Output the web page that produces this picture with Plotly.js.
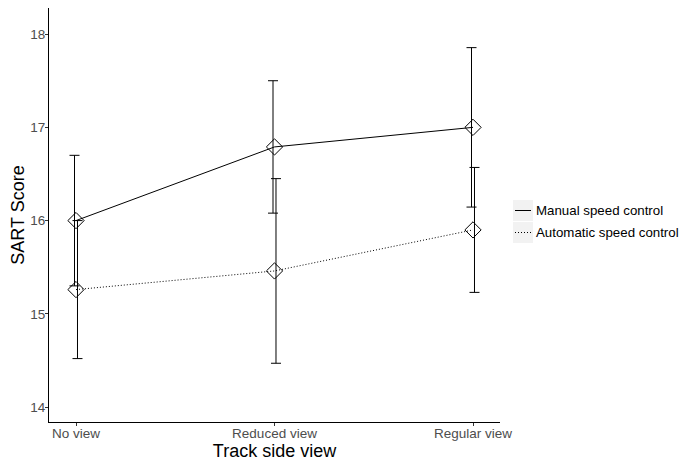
<!DOCTYPE html>
<html>
<head>
<meta charset="utf-8">
<script src="https://cdn.plot.ly/plotly-3.0.1.min.js"></script>
<style>html,body{margin:0;padding:0;background:#fff;}#chart{width:682px;height:461px;}</style>
</head>
<body>
<div id="chart"></div>
<script>
const categories = ['No view', 'Reduced view', 'Regular view'];
const seriesNames = ['Manual speed control', 'Automatic speed control'];
const manualMean = [16.00, 16.79, 17.00];
const manualErr = [0.70, 0.71, 0.855];
const autoMean = [15.26, 15.46, 15.90];
const autoErr = [0.74, 0.99, 0.67];
const yTicks = [14, 15, 16, 17, 18];

const FONT = 'Liberation Sans, Arial, sans-serif';
const idx = categories.map((c, i) => i);
const dodge = 0.0075;
const DOT = '1px,2px';

function errTrace(mean, err, off) {
  return {
    x: idx.map(i => i + off), y: mean, type: 'scatter', mode: 'markers',
    marker: {size: 1, opacity: 0, color: '#000'},
    error_y: {type: 'data', array: err, symmetric: true, visible: true, color: '#000', thickness: 1, width: 5},
    showlegend: false, hoverinfo: 'skip'
  };
}
function lineTrace(mean, name, dash) {
  return {
    x: idx, y: mean, type: 'scatter', mode: 'lines+markers', name: name,
    line: {color: '#000', width: 1, dash: dash},
    marker: {symbol: 'diamond-open', size: 12.5, color: '#000', line: {width: 1, color: '#000'}},
    showlegend: false
  };
}

const data = [
  errTrace(manualMean, manualErr, -dodge),
  errTrace(autoMean, autoErr, dodge),
  lineTrace(manualMean, seriesNames[0], 'solid'),
  lineTrace(autoMean, seriesNames[1], DOT)
];

// plot area in pixels: x 49..500, y 8..422
const L = 49, R = 500, T = 8, B = 422;
const px = v => (v - L) / (R - L);
const py = v => (B - v) / (B - T);

const keyBoxes = [[200, 221], [222, 243]];
const shapes = [];
const annotations = [];
seriesNames.forEach((n, k) => {
  const [y0, y1] = keyBoxes[k];
  shapes.push({type: 'rect', xref: 'paper', yref: 'paper', x0: px(513), x1: px(533), y0: py(y1), y1: py(y0),
    fillcolor: '#f2f2f2', line: {width: 0}, layer: 'below'});
  const ym = (y0 + y1) / 2;
  shapes.push({type: 'line', xref: 'paper', yref: 'paper', x0: px(515), x1: px(531), y0: py(ym), y1: py(ym),
    line: {color: '#000', width: 1, dash: k === 0 ? 'solid' : DOT}});
  annotations.push({text: n, xref: 'paper', yref: 'paper', x: px(534), y: py(ym), xanchor: 'left', yanchor: 'middle',
    showarrow: false, font: {family: FONT, size: 13.3, color: '#000'}});
});

const layout = {
  width: 682, height: 461,
  margin: {l: L, r: 682 - R, t: T, b: 461 - B},
  paper_bgcolor: '#fff', plot_bgcolor: '#fff',
  showlegend: false,
  font: {family: FONT},
  xaxis: {
    range: [-0.136, 2.136], tickvals: idx, ticktext: categories,
    showgrid: false, zeroline: false, showline: true, linecolor: '#000', linewidth: 1,
    ticks: 'outside', ticklen: 3, tickcolor: '#333', tickwidth: 1, ticklabelstandoff: -4,
    tickfont: {family: FONT, size: 13.5, color: '#4d4d4d'},
    title: {text: 'Track side view', font: {family: FONT, size: 18, color: '#000'}, standoff: 8}
  },
  yaxis: {
    range: [13.84, 18.28], tickvals: yTicks,
    showgrid: false, zeroline: false, showline: true, linecolor: '#000', linewidth: 1,
    ticks: 'outside', ticklen: 3, tickcolor: '#333', tickwidth: 1, ticklabelstandoff: -3,
    tickfont: {family: FONT, size: 13.5, color: '#4d4d4d'},
    title: {text: 'SART Score', font: {family: FONT, size: 18, color: '#000'}, standoff: 0}
  },
  shapes: shapes,
  annotations: annotations
};

Plotly.newPlot('chart', data, layout, {displayModeBar: false, staticPlot: true});
</script>
</body>
</html>
